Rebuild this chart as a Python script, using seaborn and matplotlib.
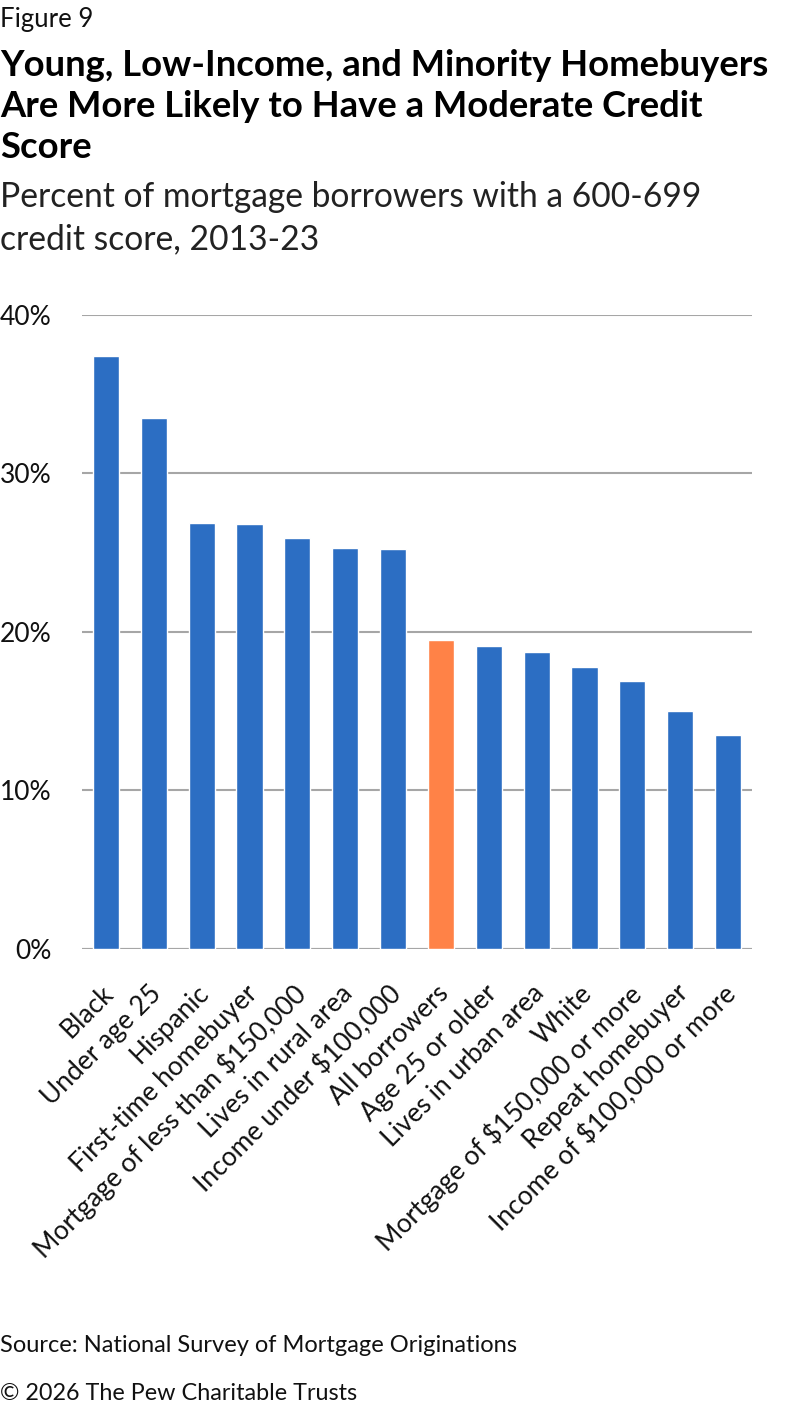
import matplotlib
matplotlib.use("Agg")
import matplotlib.pyplot as plt
import matplotlib.transforms as mtransforms
import seaborn as sns
import pandas as pd

categories = ["Black", "Under age 25", "Hispanic", "First-time homebuyer",
              "Mortgage of less than $150,000", "Lives in rural area",
              "Income under $100,000", "All borrowers", "Age 25 or older",
              "Lives in urban area", "White", "Mortgage of $150,000 or more",
              "Repeat homebuyer", "Income of $100,000 or more"]
values = [37.4, 33.5, 26.9, 26.8, 25.9, 25.3, 25.2, 19.5, 19.1, 18.7, 17.8, 16.9, 15.0, 13.5]
highlight = "All borrowers"
yticks = [0, 10, 20, 30, 40]
ytick_labels = ["0%", "10%", "20%", "30%", "40%"]

title_lines = ["Young, Low-Income, and Minority Homebuyers",
               "Are More Likely to Have a Moderate Credit",
               "Score"]
subtitle_lines = ["Percent of mortgage borrowers with a 600-699",
                  "credit score, 2013-23"]

BLUE = "#2c6ec3"
ORANGE = "#ff8247"
GRID = "#a6a6a6"

sns.set_theme(style="white")
plt.rcParams['font.family'] = ['Lato', 'DejaVu Sans']

df = pd.DataFrame({"cat": categories, "val": values})
palette = {c: (ORANGE if c == highlight else BLUE) for c in categories}

W, H = 792, 1408
fig = plt.figure(figsize=(W / 100, H / 100), dpi=100)
ax = fig.add_axes([82 / W, 1 - 948.6 / H, 670 / W, (948.6 - 315) / H])

sns.barplot(data=df, x="cat", y="val", hue="cat", palette=palette,
            width=0.545, legend=False, ax=ax, saturation=1)

ax.set_ylim(0, 40)
ax.set_xlim(-0.5, len(categories) - 0.5)
ax.set_yticks(yticks)
ax.set_yticklabels(ytick_labels, fontsize=19, color="#111111")
ax.yaxis.grid(True, color=GRID, linewidth=1.5)
ax.set_axisbelow(True)
for s in ax.spines.values():
    s.set_visible(False)
ax.axhline(0, color=GRID, linewidth=1.5, zorder=0)
ax.tick_params(axis="y", length=0, pad=22)
ax.tick_params(axis="x", length=0, pad=23)
ax.set_xlabel("")
ax.set_ylabel("")
ax.set_xticks(range(len(categories)))
ax.set_xticklabels(categories, rotation=45, ha="right", rotation_mode="anchor",
                   fontsize=19, color="#111111")
shift = mtransforms.ScaledTranslation(-5 / 100, 0, fig.dpi_scale_trans)
for lbl in ax.get_xticklabels():
    lbl.set_transform(lbl.get_transform() + shift)


def ypos(px):
    return 1 - px / H


fig.text(0.0, ypos(27), "Figure 9", fontsize=18.5, va="baseline", ha="left", color="#111111")
for i, line in enumerate(title_lines):
    fig.text(0.0, ypos(76 + 41 * i), line, fontsize=26.2, fontweight="bold",
             va="baseline", ha="left", color="#000000")
for i, line in enumerate(subtitle_lines):
    fig.text(0.0, ypos(207 + 42 * i), line, fontsize=24.2,
             va="baseline", ha="left", color="#222222")
fig.text(0.0, ypos(1352), "Source: National Survey of Mortgage Originations",
         fontsize=17, va="baseline", ha="left", color="#111111")
fig.text(0.0, ypos(1400), "\u00a9 2026 The Pew Charitable Trusts",
         fontsize=16.8, va="baseline", ha="left", color="#111111")

fig.savefig("out.png", dpi=100)
